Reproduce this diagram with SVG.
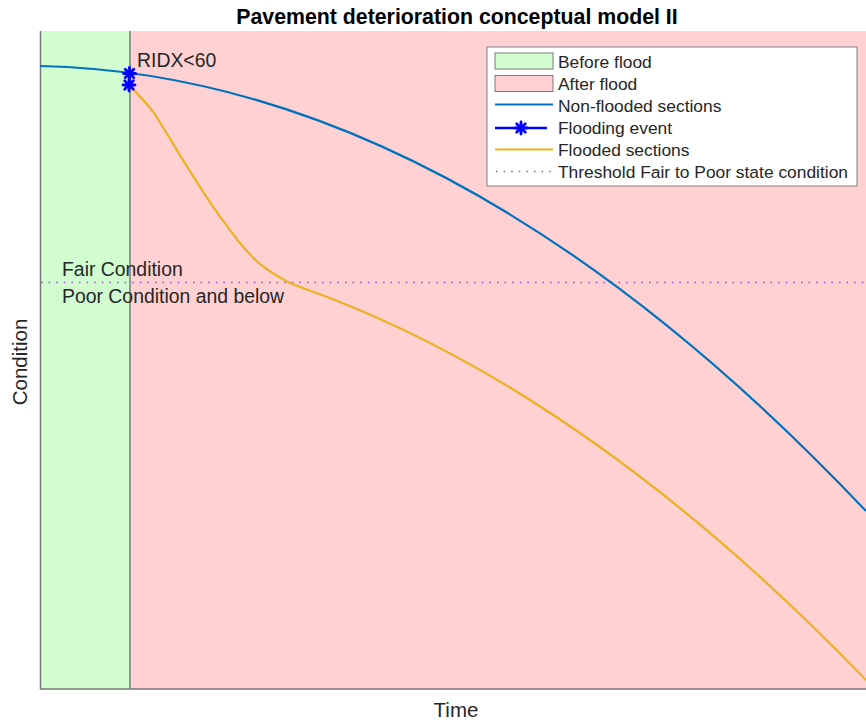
<svg xmlns="http://www.w3.org/2000/svg" width="866" height="724" viewBox="0 0 866 724">
<style>
text{font-family:"Liberation Sans",Arial,Helvetica,sans-serif;fill:#262626}
.lbl{font-size:19.4px}
.ax{font-size:20.5px}
.leg{font-size:17.4px}
.ttl{font-size:21.3px;font-weight:bold;fill:#000}
.axis{stroke:#7a7a7a;stroke-width:1.5;fill:none}
.blue{stroke:#0072bd;stroke-width:2.2;fill:none}
.yel{stroke:#edb120;stroke-width:2.2;fill:none;stroke-linejoin:round}
.thr{stroke:#9b4fc4;stroke-width:1.3;stroke-dasharray:1.5 6.1;fill:none}
.ev{stroke:#0000ff;stroke-width:2.4;fill:none}
</style>
<defs>
<g id="star" stroke="#0000ff" stroke-width="2.8" stroke-linecap="round">
<line x1="-6" y1="0" x2="6" y2="0"/>
<line x1="0" y1="-6" x2="0" y2="6"/>
<line x1="-4.3" y1="-4.3" x2="4.3" y2="4.3"/>
<line x1="-4.3" y1="4.3" x2="4.3" y2="-4.3"/>
</g>
</defs>
<rect width="866" height="724" fill="#ffffff"/>
<text class="ttl" x="457" y="24" text-anchor="middle">Pavement deterioration conceptual model II</text>
<g id="before-flood"><rect x="40" y="31" width="90" height="658" fill="#d1fdd1"/></g>
<g id="after-flood"><rect x="130" y="31" width="740" height="658" fill="#ffd1d3"/></g>
<g id="axes">
<path class="axis" d="M40.5 31 V689 H870"/>
<path class="axis" d="M130 31 V689"/>
</g>
<g id="connectors">
<path id="threshold" class="thr" d="M41 282.5 H866"/>
<path id="non-flooded" class="blue" d="M40 66 Q453 74.8 866 511"/>
<path id="flooded" class="yel" d="M130 86 C142 99 148 104 156 116 C170 138 195 182 220 216.7 L240 243.3 C250 255 256 261 263.3 266.7 C272 273 280 278 288 282 C292 284 296 285.5 300 287 Q583 386.6 866 680"/>
<path class="ev" d="M129.5 73.5 V85"/>
<use href="#star" x="129.5" y="73.5"/>
<use href="#star" x="129" y="85"/>
</g>
<g id="annotations">
<text class="lbl" x="137" y="67">RIDX&lt;60</text>
<text class="lbl" x="62" y="276">Fair Condition</text>
<text class="lbl" x="62" y="303">Poor Condition and below</text>
<text class="ax" x="456" y="717" text-anchor="middle">Time</text>
<text class="ax" transform="translate(27 362) rotate(-90)" text-anchor="middle">Condition</text>
</g>
<g id="legend">
<rect x="487" y="47" width="370" height="139" fill="#ffffff" stroke="#808080" stroke-width="1"/>
<rect x="495" y="53" width="58" height="16" fill="#d1fdd1" stroke="#7a7a7a" stroke-width="1"/>
<rect x="495" y="75.5" width="58" height="16" fill="#ffd1d3" stroke="#7a7a7a" stroke-width="1"/>
<line class="blue" x1="495" y1="104.5" x2="553" y2="104.5"/>
<line class="ev" x1="495" y1="128" x2="547" y2="128"/>
<use href="#star" x="521" y="128"/>
<line class="yel" x1="495" y1="149.5" x2="553" y2="149.5"/>
<line class="thr" x1="496" y1="171.5" x2="553" y2="171.5"/>
<text class="leg" x="558" y="68">Before flood</text>
<text class="leg" x="558" y="90">After flood</text>
<text class="leg" x="558" y="112">Non-flooded sections</text>
<text class="leg" x="558" y="134">Flooding event</text>
<text class="leg" x="558" y="156">Flooded sections</text>
<text class="leg" x="558" y="178">Threshold Fair to Poor state condition</text>
</g>
</svg>
